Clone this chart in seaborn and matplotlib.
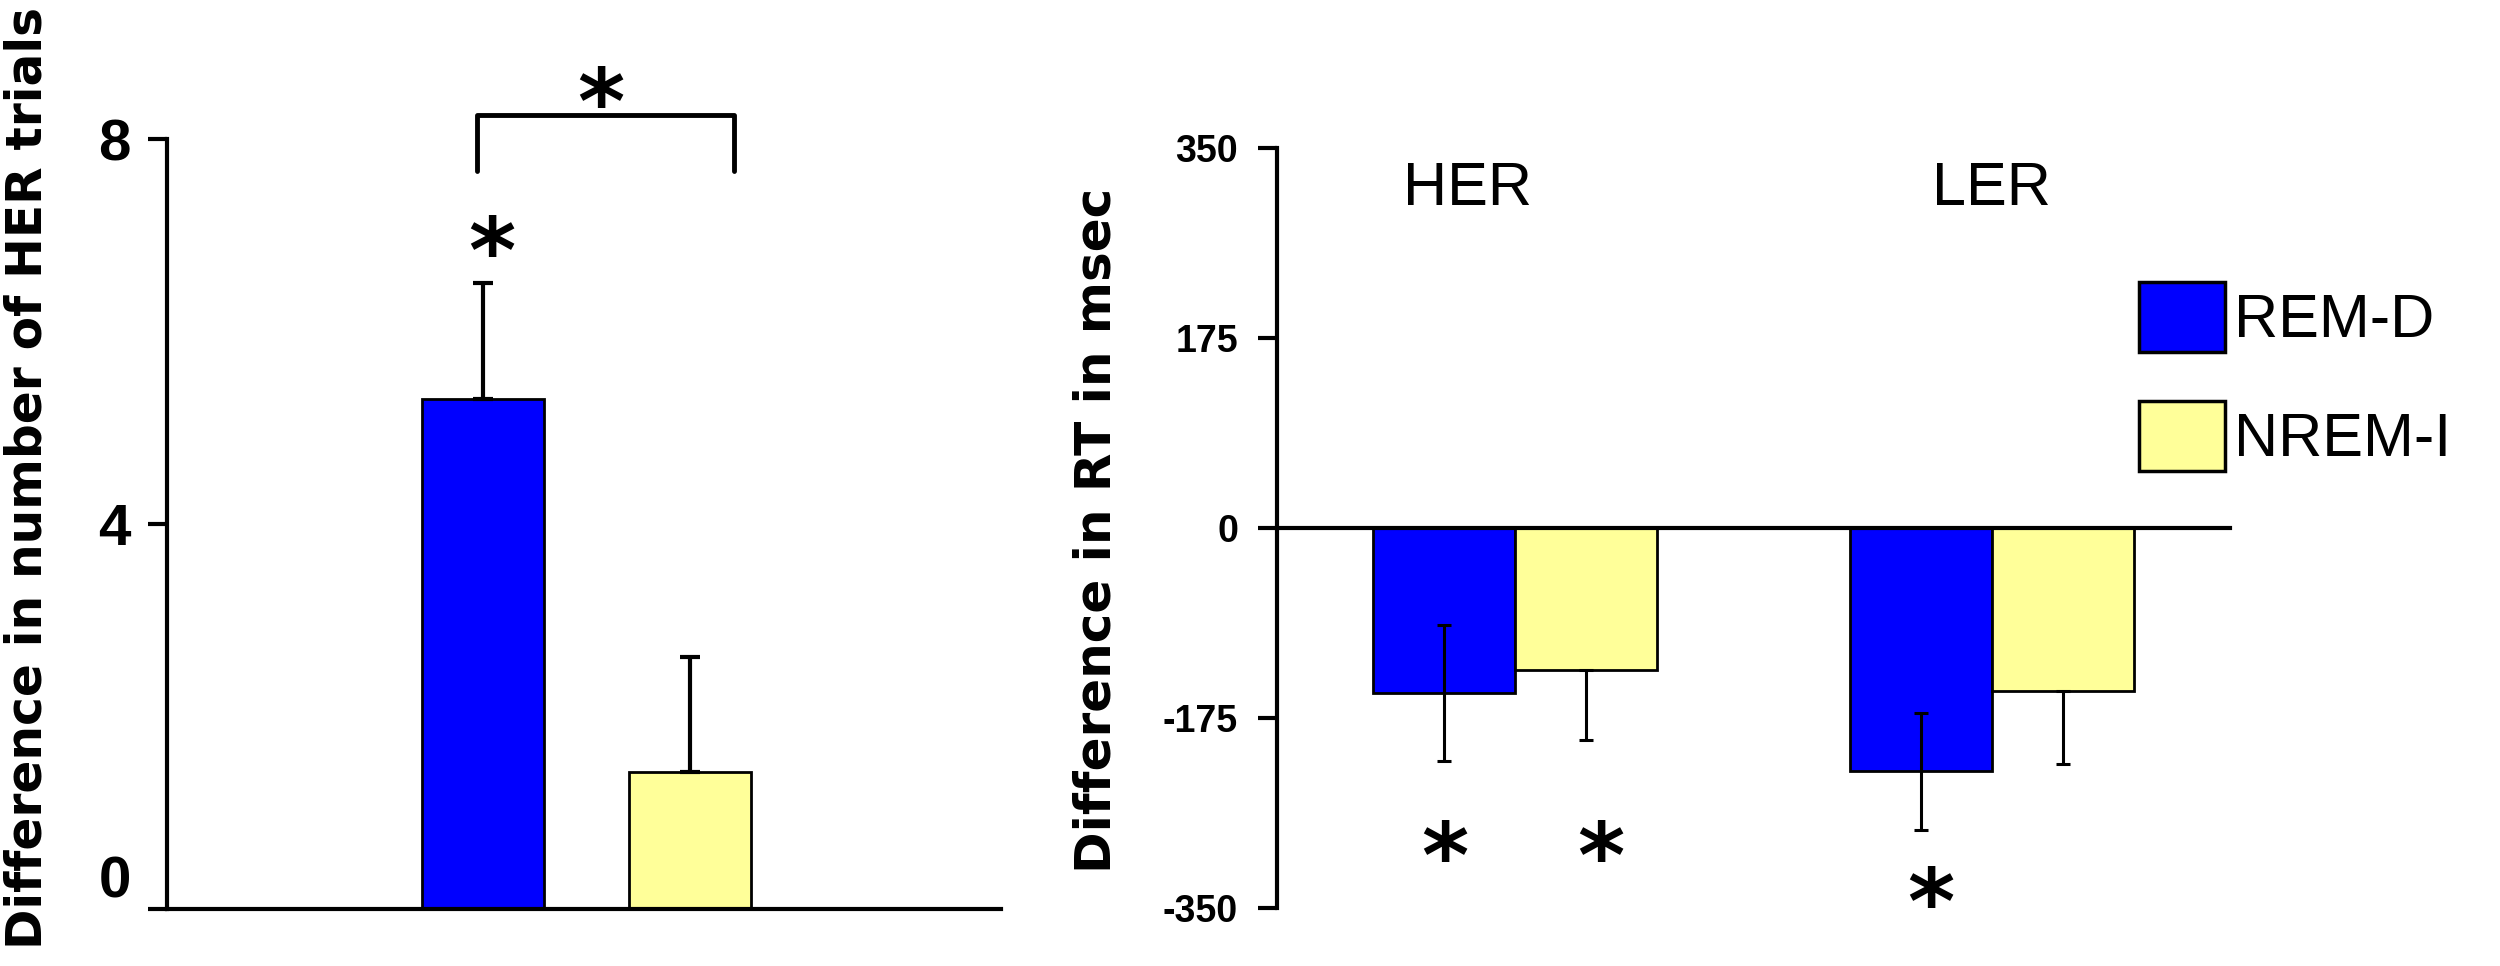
import matplotlib
matplotlib.use('Agg')
import matplotlib.pyplot as plt
from matplotlib.patches import Patch
import seaborn as sns
import pandas as pd

# left panel: difference in number of HER trials
left_conds = ['REM-D', 'NREM-I']
left_vals = [5.30, 1.42]
left_err = [1.20, 1.20]
left_ticks = [0, 4, 8]

# right panel: difference in RT (msec)
groups = ['HER', 'LER']
conds = ['REM-D', 'NREM-I']
rt_remd = [-152, -224]
rt_nremi = [-131, -150]
err_down = {'REM-D': [63, 54], 'NREM-I': [64, 67]}
err_up = {'REM-D': [63, 54], 'NREM-I': [0, 0]}
right_ticks = [-350, -175, 0, 175, 350]

colors = {'REM-D': '#0000FF', 'NREM-I': '#FFFF99'}

sns.set_style('white')
plt.rcParams['font.family'] = ['Liberation Sans', 'DejaVu Sans']
plt.rcParams['text.color'] = 'black'
plt.rcParams['axes.labelcolor'] = 'black'
plt.rcParams['xtick.color'] = 'black'
plt.rcParams['ytick.color'] = 'black'

fig = plt.figure(figsize=(25, 9.66), dpi=100)
ax1 = fig.add_axes([0.0668, 0.059, 0.3336, 0.797])
ax2 = fig.add_axes([0.5108, 0.060, 0.3812, 0.7868])


def star(ax, x, y, size=65):
    # baseline put below (x, y) so the asterisk glyph itself is centred there
    ax.annotate('*', (x, y), xytext=(0, -0.59 * size), textcoords='offset points',
                ha='center', va='baseline', fontsize=size, fontweight='bold',
                family='DejaVu Sans', annotation_clip=False)


# ---------- left ----------
df1 = pd.DataFrame({'cond': left_conds, 'val': left_vals})
sns.barplot(data=df1, x='cond', y='val', hue='cond', palette=colors, width=0.59,
            saturation=1, edgecolor='black', linewidth=2, errorbar=None,
            legend=False, ax=ax1)
centers1 = []
for p, e in zip(ax1.patches, left_err):
    xc = p.get_x() + p.get_width() / 2
    centers1.append(xc)
    ax1.errorbar(xc, p.get_height(), yerr=[[0], [e]], fmt='none', ecolor='black',
                 elinewidth=3, capsize=7, capthick=3)

ax1.set_xlim(-1.527, 2.502)
ax1.set_ylim(0, 8)
ax1.set_yticks(left_ticks)
ax1.set_xticks([])
ax1.set_xlabel('')
ax1.set_ylabel('Difference in number of HER trials', fontsize=35, fontweight='bold',
               family='DejaVu Sans')
ax1.yaxis.set_label_coords(-0.139, 0.56)
ax1.tick_params(axis='y', left=True, direction='out', length=14, width=3, pad=12, labelsize=42)
ylabs = ax1.get_yticklabels()
for t in ylabs:
    t.set_fontweight('bold')
ylabs[0].set_va('bottom')
for s in ['top', 'right']:
    ax1.spines[s].set_visible(False)
for s in ['left', 'bottom']:
    ax1.spines[s].set_linewidth(3)
    ax1.spines[s].set_color('black')

# significance bracket between the two bars
bx0, bx1 = centers1[0] - 0.03, centers1[1] + 0.21
ax1.plot([bx0, bx0, bx1, bx1], [7.67, 8.25, 8.25, 7.67], color='black', lw=3.5, clip_on=False)
star(ax1, (bx0 + bx1) / 2 - 0.02, 8.62)
star(ax1, centers1[0] + 0.04, 7.07)

# ---------- right ----------
df2 = pd.DataFrame({'group': groups * 2,
                    'cond': [conds[0]] * 2 + [conds[1]] * 2,
                    'rt': rt_remd + rt_nremi})
sns.barplot(data=df2, x='group', y='rt', hue='cond', hue_order=conds, palette=colors,
            width=0.595, saturation=1, edgecolor='black', linewidth=2, errorbar=None,
            legend=False, ax=ax2)
bar_centers = {}
for cont, c in zip(ax2.containers, conds):
    for i, bar in enumerate(cont):
        xc = bar.get_x() + bar.get_width() / 2
        yv = bar.get_y() + bar.get_height()
        bar_centers[(c, i)] = xc
        ax2.errorbar(xc, yv, yerr=[[err_down[c][i]], [err_up[c][i]]], fmt='none',
                     ecolor='black', elinewidth=2.2, capsize=5, capthick=2.2)

ax2.set_xlim(-0.5, 1.5)
ax2.set_ylim(-350, 350)
ax2.set_yticks(right_ticks)
ax2.set_yticklabels([str(v) for v in right_ticks],
                    family=['Liberation Sans Narrow', 'Liberation Sans'],
                    fontweight='bold', fontsize=27)
ax2.set_xticks([])
ax2.set_xlabel('')
ax2.set_ylabel('Difference in RT in msec', fontsize=36, fontweight='bold',
               family='DejaVu Sans')
ax2.yaxis.set_label_coords(-0.164, 0.497)
ax2.tick_params(axis='y', left=True, direction='out', length=14, width=3, pad=14)
ax2.spines['top'].set_visible(False)
ax2.spines['right'].set_visible(False)
ax2.spines['bottom'].set_position(('data', 0))
for s in ['left', 'bottom']:
    ax2.spines[s].set_linewidth(3)
    ax2.spines[s].set_color('black')

for i, (g, dx) in enumerate(zip(groups, [-0.1, 0.0])):
    ax2.text(i + dx, 312, g, ha='center', va='center', fontsize=44)

star(ax2, bar_centers[('REM-D', 0)], -282)
star(ax2, bar_centers[('NREM-I', 0)] + 0.03, -282)
star(ax2, bar_centers[('REM-D', 1)] + 0.02, -324)

handles = [Patch(facecolor=colors[c], edgecolor='black', linewidth=2.5) for c in conds]
fig.legend(handles, conds, loc='upper left', bbox_to_anchor=(0.8556, 0.708),
           frameon=False, fontsize=44, handlelength=1.4, handleheight=1.38,
           labelspacing=0.8, handletextpad=0.15, borderpad=0, borderaxespad=0)

fig.savefig('out.png', dpi=100)
